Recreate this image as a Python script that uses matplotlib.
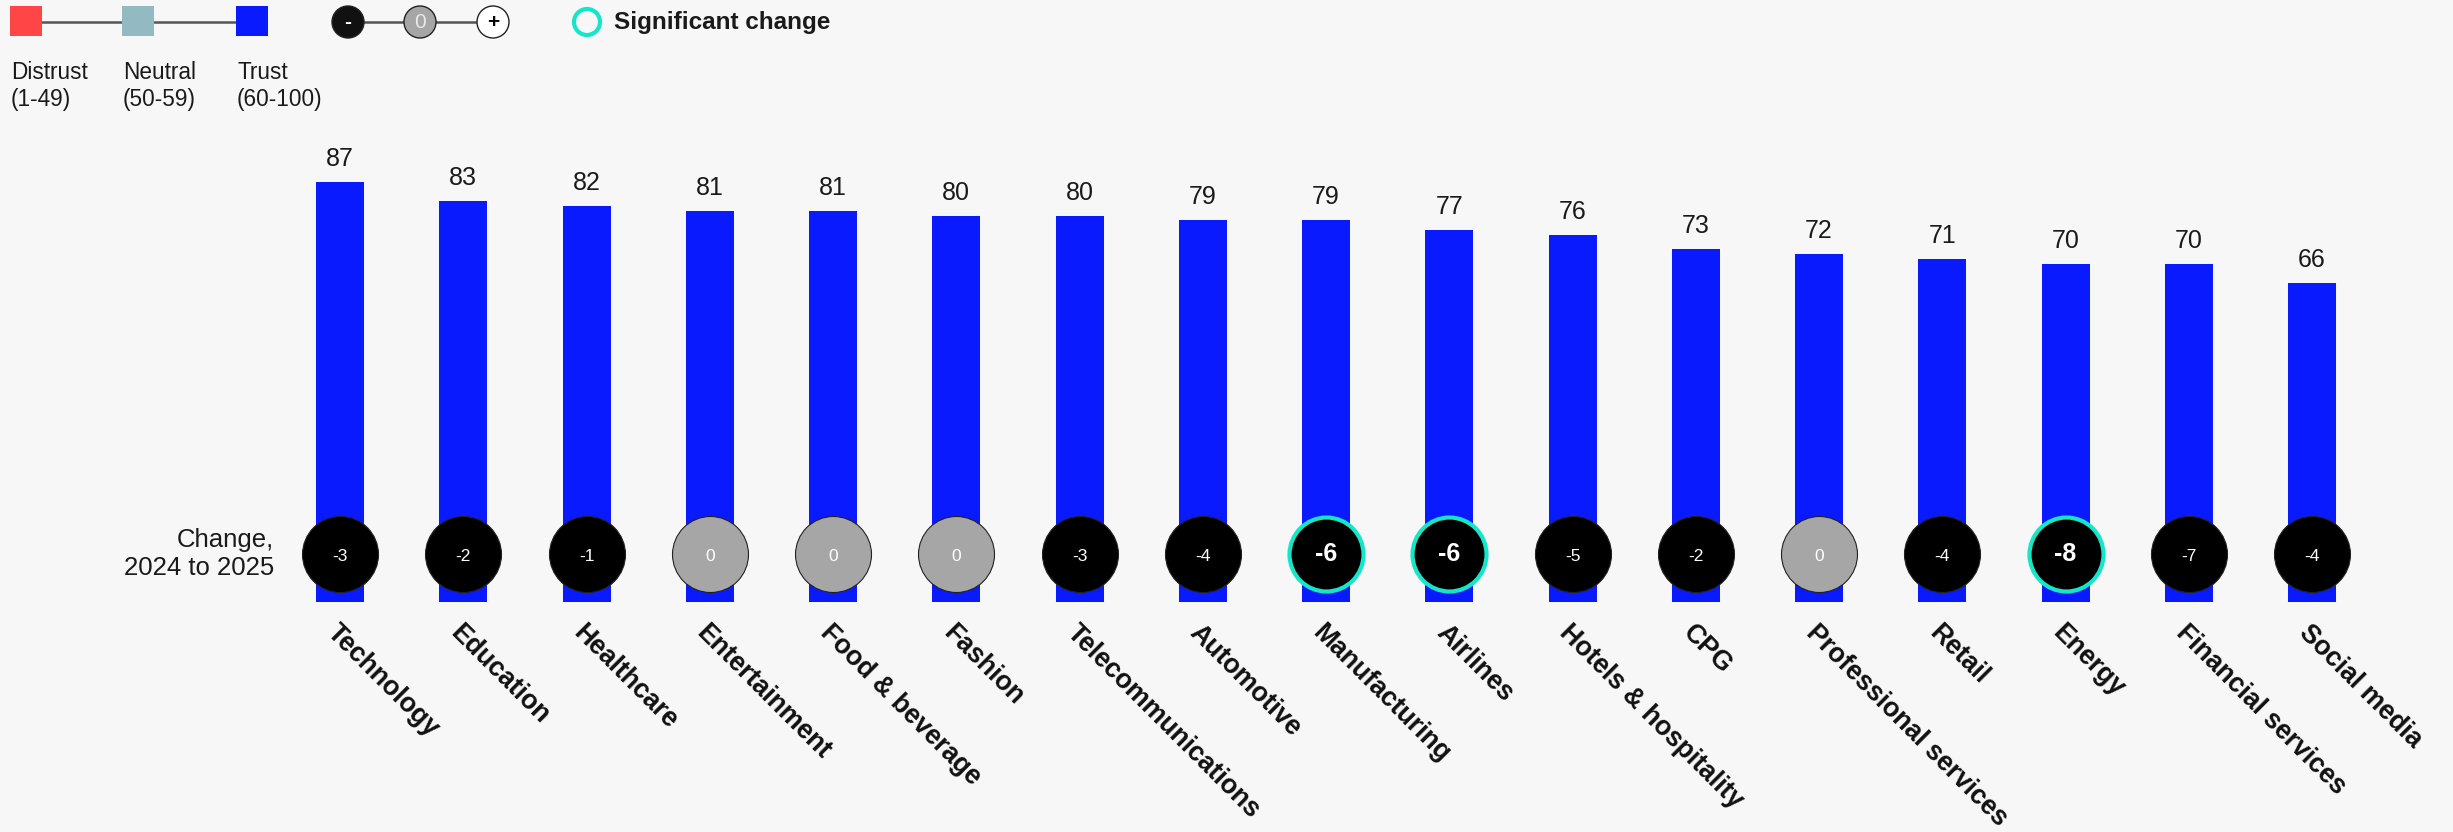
import matplotlib
matplotlib.use("Agg")
import matplotlib.pyplot as plt
from matplotlib.patches import Rectangle, Circle

plt.rcParams['font.family'] = ['Liberation Sans', 'DejaVu Sans']

categories = ["Technology", "Education", "Healthcare", "Entertainment", "Food & beverage",
              "Fashion", "Telecommunications", "Automotive", "Manufacturing", "Airlines",
              "Hotels & hospitality", "CPG", "Professional services", "Retail", "Energy",
              "Financial services", "Social media"]
trust = [87, 83, 82, 81, 81, 80, 80, 79, 79, 77, 76, 73, 72, 71, 70, 70, 66]
change = [-3, -2, -1, 0, 0, 0, -3, -4, -6, -6, -5, -2, 0, -4, -8, -7, -4]
significant = [False, False, False, False, False, False, False, False, True, True,
               False, False, False, False, True, False, False]

W, H, DPI = 2453, 832, 100
BG = "#F7F7F7"
BLUE = "#0A1AFF"
CYAN = "#14E6C8"

fig = plt.figure(figsize=(W / DPI, H / DPI), dpi=DPI, facecolor=BG)

# main axes: x in category units, y in value units
x0_px, step_px = 340, 123.25
base_px, ppu = 602, 4.83
ax = fig.add_axes([0, 0, 1, 1])
ax.set_facecolor("none")
ax.set_xlim(-x0_px / step_px, (W - x0_px) / step_px)
ax.set_ylim((base_px - H) / ppu, base_px / ppu)
ax.axis("off")

xs = list(range(len(categories)))
ax.bar(xs, trust, width=48 / step_px, color=BLUE, zorder=1)

circle_y = 10
for i, (c, s) in enumerate(zip(change, significant)):
    face = "#A6A6A6" if c == 0 else "#000000"
    if s:
        ax.scatter([i], [circle_y], s=(74 * 72 / DPI) ** 2, facecolor=face,
                   edgecolor=CYAN, linewidth=3.0, zorder=3)
        ax.text(i, circle_y, f"{c}", color="white", fontsize=18, fontweight="bold",
                ha="center", va="center", zorder=4)
    else:
        ax.scatter([i], [circle_y], s=(76 * 72 / DPI) ** 2, facecolor=face,
                   edgecolor="#222222", linewidth=0.8, zorder=3)
        ax.text(i, circle_y - 0.5, f"{c}", color="white", fontsize=12.5,
                ha="center", va="center", zorder=4)

for i, v in enumerate(trust):
    ax.annotate(f"{v}", (i, v), xytext=(0, 11.5), textcoords="offset points",
                ha="center", va="baseline", fontsize=18, color="#1a1a1a")

label_y = (base_px - 620) / ppu
for i, name in enumerate(categories):
    ax.text(i, label_y, name, rotation=-45, rotation_mode="anchor",
            ha="left", va="top", fontsize=19.2, fontweight="bold", color="#111111")

ax.text(-x0_px / step_px + 274 / step_px, circle_y, "Change,\n2024 to 2025",
        ha="right", va="center", fontsize=18.5, color="#1a1a1a", linespacing=1.2)

# legend overlay in pixel coordinates
lg = fig.add_axes([0, 0, 1, 1])
lg.set_facecolor("none")
lg.set_xlim(0, W)
lg.set_ylim(H, 0)
lg.axis("off")

lg.plot([26, 251], [22, 22], color="#555555", lw=1.8, zorder=1)
for x, col in [(10, "#FF4545"), (122, "#93B9C2"), (236, BLUE)]:
    lg.add_patch(Rectangle((x, 6), 32, 30, facecolor=col, edgecolor="none", zorder=2))
for x, t1, t2 in [(10, "Distrust", "(1-49)"), (122, "Neutral", "(50-59)"), (236, "Trust", "(60-100)")]:
    lg.text(x + 1, 79, t1, ha="left", va="baseline", fontsize=16.3, color="#1a1a1a")
    lg.text(x + 1, 106, t2, ha="left", va="baseline", fontsize=16.3, color="#1a1a1a")

lg.plot([348, 493], [22, 22], color="#555555", lw=1.8, zorder=1)
for x, face, txt, tc in [(348, "#111111", "-", "white"), (420, "#A6A6A6", "0", "#E8E8E8"),
                         (493, "white", "+", "black")]:
    lg.add_patch(Circle((x, 22), 16, facecolor=face, edgecolor="#222222", lw=1.0, zorder=2))
    lg.text(x, 23, txt, ha="center", va="center", fontsize=15,
            fontweight="bold" if txt != "0" else "normal", color=tc, zorder=3)

lg.add_patch(Circle((587, 22), 13, facecolor="none", edgecolor=CYAN, lw=3.0, zorder=2))
lg.text(614, 22, "Significant change", ha="left", va="center", fontsize=17.5,
        fontweight="bold", color="#1a1a1a")

fig.savefig("out.png", dpi=DPI, facecolor=BG)
